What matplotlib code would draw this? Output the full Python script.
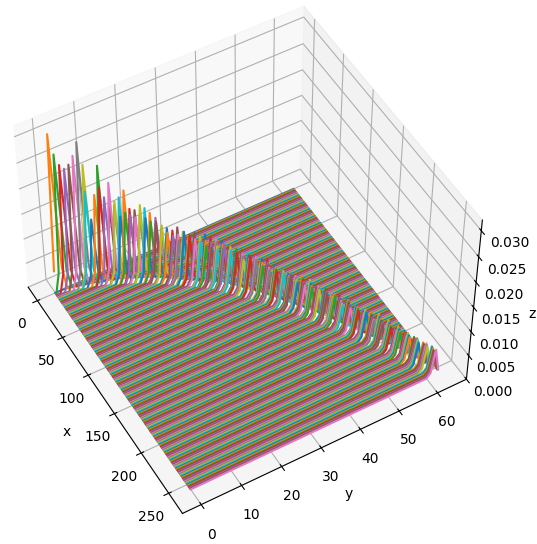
#!/usr/bin/env python3
import matplotlib

matplotlib.use("Agg")
import matplotlib.pyplot as plt

N_Y = 64
N_X = 257

# y index of the ridge for each x line
peak_y = [0, 1, 2, 3, 4, 5, 6, 7, 8, 8, 9, 10, 11, 11, 12, 13, 13, 14, 14, 15,
          15, 16, 16, 17, 17, 18, 18, 19, 19, 20, 20, 21, 21, 22, 22, 22, 23, 23, 23, 24,
          24, 24, 25, 25, 25, 26, 26, 26, 27, 27, 27, 28, 28, 28, 29, 29, 29, 30, 30, 30,
          31, 31, 31, 32, 32, 32, 33, 33, 33, 33, 34, 34, 34, 34, 34, 35, 35, 35, 35, 35,
          36, 36, 36, 36, 37, 37, 37, 37, 37, 38, 38, 38, 38, 38, 39, 39, 39, 39, 40, 40,
          40, 40, 40, 41, 41, 41, 41, 41, 42, 42, 42, 42, 42, 42, 43, 43, 43, 43, 43, 43,
          44, 44, 44, 44, 44, 44, 45, 45, 45, 45, 45, 46, 46, 46, 46, 46, 46, 47, 47, 47,
          47, 47, 47, 48, 48, 48, 48, 48, 48, 49, 49, 49, 49, 49, 49, 49, 50, 50, 50, 50,
          50, 50, 50, 51, 51, 51, 51, 51, 51, 51, 52, 52, 52, 52, 52, 52, 52, 53, 53, 53,
          53, 53, 53, 53, 54, 54, 54, 54, 54, 54, 54, 55, 55, 55, 55, 55, 55, 55, 56, 56,
          56, 56, 56, 56, 56, 56, 57, 57, 57, 57, 57, 57, 57, 57, 58, 58, 58, 58, 58, 58,
          58, 58, 58, 59, 59, 59, 59, 59, 59, 59, 59, 59, 60, 60, 60, 60, 60, 60, 60, 60,
          60, 61, 61, 61, 61, 61, 61, 61, 61, 62, 62, 62, 62, 62, 62, 62, 62]

# ridge height for each x line
peak_z = [0.0, 0.0314, 0.0274, 0.0252, 0.0243, 0.0249, 0.0264, 0.0288, 0.0243, 0.0193,
          0.0135, 0.0182, 0.0237, 0.0196, 0.0175, 0.0162, 0.0203, 0.0156, 0.0166, 0.0172,
          0.0135, 0.0185, 0.0142, 0.0148, 0.0138, 0.0145, 0.0132, 0.0135, 0.0156, 0.0148,
          0.0129, 0.0138, 0.0122, 0.0114, 0.0129, 0.0122, 0.0098, 0.0108, 0.0116, 0.0094,
          0.0110, 0.0102, 0.0091, 0.0106, 0.0097, 0.0112, 0.0099, 0.0088, 0.0104, 0.0093,
          0.0107, 0.0096, 0.0086, 0.0101, 0.0092, 0.0105, 0.0094, 0.0084, 0.0098, 0.0090,
          0.0102, 0.0091, 0.0082, 0.0097, 0.0089, 0.0080, 0.0096, 0.0090, 0.0083, 0.0078,
          0.0094, 0.0088, 0.0081, 0.0076, 0.0092, 0.0086, 0.0080, 0.0075, 0.0090, 0.0084,
          0.0078, 0.0073, 0.0088, 0.0081, 0.0074, 0.0087, 0.0082, 0.0076, 0.0071, 0.0085,
          0.0080, 0.0074, 0.0070, 0.0083, 0.0076, 0.0070, 0.0082, 0.0077, 0.0072, 0.0068,
          0.0080, 0.0074, 0.0068, 0.0079, 0.0075, 0.0071, 0.0068, 0.0065, 0.0063, 0.0061,
          0.0077, 0.0073, 0.0070, 0.0067, 0.0064, 0.0062, 0.0060, 0.0075, 0.0072, 0.0069,
          0.0066, 0.0063, 0.0061, 0.0059, 0.0073, 0.0070, 0.0067, 0.0064, 0.0062, 0.0060,
          0.0058, 0.0071, 0.0068, 0.0066, 0.0063, 0.0061, 0.0059, 0.0057, 0.0070, 0.0067,
          0.0065, 0.0062, 0.0060, 0.0058, 0.0056, 0.0069, 0.0066, 0.0063, 0.0061, 0.0059,
          0.0057, 0.0055, 0.0067, 0.0065, 0.0063, 0.0061, 0.0059, 0.0057, 0.0055, 0.0054,
          0.0052, 0.0065, 0.0063, 0.0061, 0.0059, 0.0057, 0.0055, 0.0053, 0.0052, 0.0050,
          0.0063, 0.0061, 0.0059, 0.0057, 0.0055, 0.0054, 0.0052, 0.0051, 0.0049, 0.0062,
          0.0060, 0.0058, 0.0056, 0.0054, 0.0053, 0.0051, 0.0050, 0.0048, 0.0060, 0.0058,
          0.0057, 0.0055, 0.0053, 0.0052, 0.0050, 0.0049, 0.0048, 0.0047, 0.0059, 0.0057,
          0.0056, 0.0054, 0.0052, 0.0051, 0.0050, 0.0048, 0.0047, 0.0046, 0.0058, 0.0056,
          0.0055, 0.0053, 0.0052, 0.0050, 0.0049, 0.0048, 0.0046, 0.0045, 0.0057, 0.0055,
          0.0054, 0.0052, 0.0051, 0.0049, 0.0048, 0.0047, 0.0046, 0.0045, 0.0056, 0.0054,
          0.0053, 0.0051, 0.0050, 0.0049, 0.0047, 0.0046, 0.0045, 0.0055, 0.0053, 0.0052,
          0.0050, 0.0049, 0.0048, 0.0047, 0.0046, 0.0045, 0.0055, 0.0053, 0.0052, 0.0050,
          0.0049, 0.0048, 0.0047, 0.0046, 0.0045, 0.0044, 0.0054, 0.0052, 0.0051, 0.0050,
          0.0049, 0.0048, 0.0047, 0.0046, 0.0045, 0.0044]

# neighbours of the ridge sample, as a share of its height
shoulder = 0.15

fig = plt.figure(figsize=(5.37, 5.44), dpi=100)
ax = fig.add_axes([-0.038, 0.038, 0.96, 0.96], projection="3d")

ys = list(range(N_Y))
for i in range(N_X):
    zs = [0.0] * N_Y
    p = peak_y[i]
    zs[p] = peak_z[i]
    if p > 0:
        zs[p - 1] = peak_z[i] * shoulder
    if p < N_Y - 1:
        zs[p + 1] = peak_z[i] * shoulder
    ax.plot([i] * N_Y, ys, zs)

ax.set_zlim(0, 0.032)
ax.set_xlabel("x")
ax.set_ylabel("y")
ax.set_zlabel("z", labelpad=3)
ax.view_init(elev=50, azim=-30)

fig.savefig("out.png", dpi=100)
